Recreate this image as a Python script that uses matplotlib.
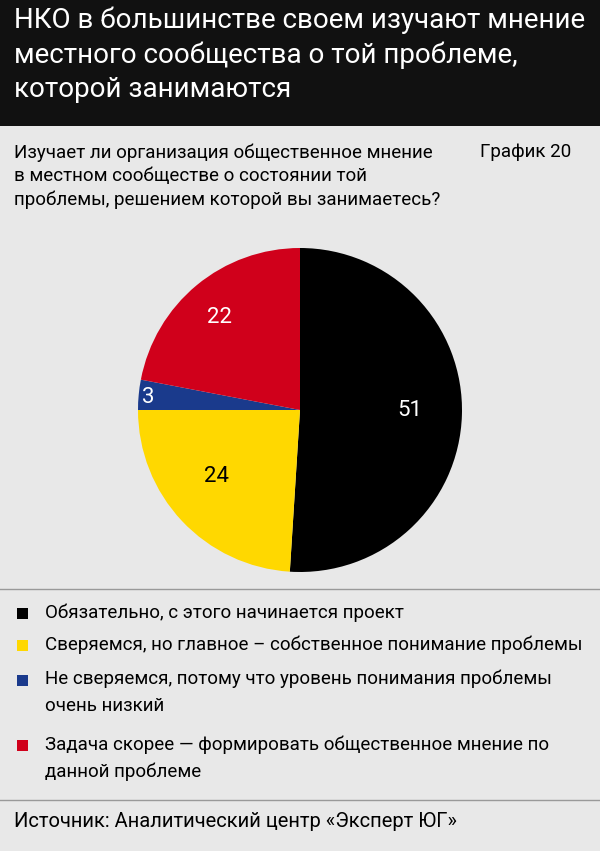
import matplotlib.pyplot as plt
from matplotlib.patches import Rectangle

plt.rcParams['font.family'] = ['Liberation Sans Narrow', 'Roboto', 'DejaVu Sans']

title = "НКО в большинстве своем изучают мнение\nместного сообщества о той проблеме,\nкоторой занимаются"
question = "Изучает ли организация общественное мнение\nв местном сообществе о состоянии той\nпроблемы, решением которой вы занимаетесь?"
chart_no = "График 20"
values = [51, 24, 3, 22]
colors = ['#000000', '#ffd800', '#1a3a8c', '#d0001b']
label_colors = ['white', 'black', 'white', 'white']
legend_labels = [
    "Обязательно, с этого начинается проект",
    "Сверяемся, но главное – собственное понимание проблемы",
    "Не сверяемся, потому что уровень понимания проблемы\nочень низкий",
    "Задача скорее — формировать общественное мнение по\nданной проблеме",
]
source = "Источник: Аналитический центр «Эксперт ЮГ»"

W, H = 600, 851
fig = plt.figure(figsize=(W / 100, H / 100), dpi=100)
fig.patch.set_facecolor('#e8e8e8')

def fy(y):
    return 1 - y / H

# header band
fig.patches.append(Rectangle((0, fy(126)), 1, 126 / H, transform=fig.transFigure,
                             facecolor='#111111', zorder=0))
fig.text(14 / W, fy(6), title, color='white', fontsize=20, va='top', linespacing=1.35)

fig.text(14 / W, fy(143), question, fontsize=13.5, va='top', linespacing=1.4)
fig.text(480 / W, fy(143), chart_no, fontsize=13.5, va='top')

# pie
r = 162
ax = fig.add_axes([(300 - r) / W, fy(410 + r), 2 * r / W, 2 * r / H])
wedges, texts = ax.pie(values, colors=colors, startangle=90, counterclock=False,
                       labels=[str(v) for v in values], labeldistance=0.6,
                       wedgeprops=dict(linewidth=0))
for t, c, v in zip(texts, label_colors, values):
    t.set_color(c)
    t.set_fontsize(16)
    if v == 3:
        t.set_position((-0.9, 0.08))
    if v == 51:
        t.set_position((0.6, 0.0))
    if v == 22:
        t.set_position((-0.42, 0.57))
ax.set_xlim(-1, 1)
ax.set_ylim(-1, 1)
ax.set_aspect('equal')

# separators
for y in (589, 800):
    fig.add_artist(plt.Line2D([0, 1], [fy(y), fy(y)], color='#999999', lw=1))

legend_y = [613, 645, 680, 745]
for y, lab, c in zip(legend_y, legend_labels, colors):
    fig.patches.append(Rectangle((17 / W, fy(y + 6)), 11 / W, 11 / H,
                                 transform=fig.transFigure, facecolor=c))
    fig.text(45 / W, fy(y - 10), lab, fontsize=13.5, va='top', linespacing=1.6)

fig.text(14 / W, fy(812), source, fontsize=14.5, va='top')

fig.savefig('out.png', dpi=100, facecolor=fig.get_facecolor())
